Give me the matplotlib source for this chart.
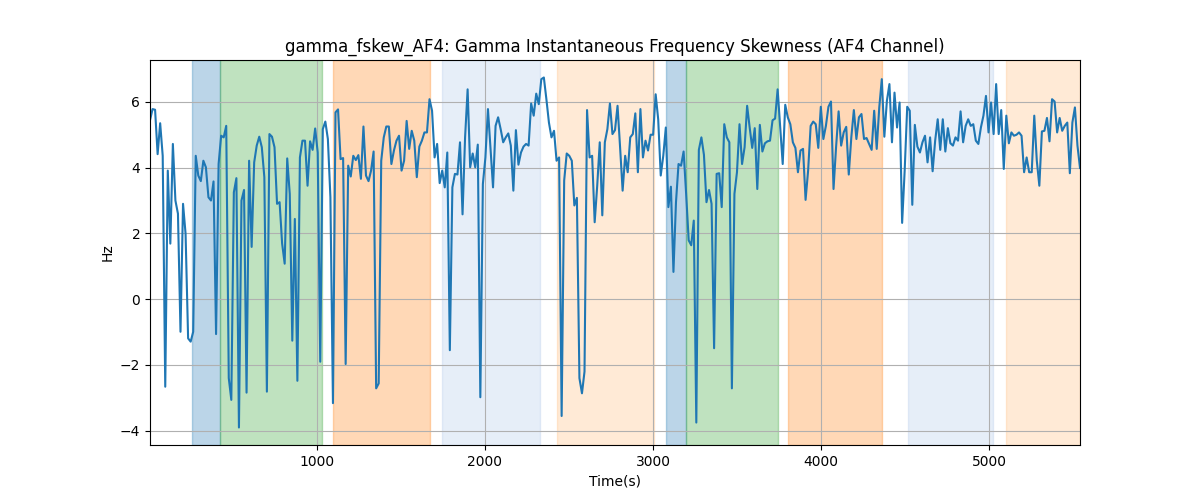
import numpy as np
import matplotlib
matplotlib.use("Agg")
import matplotlib.pyplot as plt

T_START = 6
T_END = 5542

# gamma frequency skewness
skew = [
    5.44, 5.78, 5.76, 4.41, 5.35, 4.36, -2.66, 3.91, 1.69, 4.72, 3.0, 2.6, -0.99, 2.9, 1.99, -1.19,
    -1.29, -0.99, 4.36, 3.76, 3.59, 4.21, 4.01, 3.1, 3.0, 3.58, -1.06, 4.11, 4.97, 4.92, 5.27, -2.4,
    -3.06, 3.25, 3.68, -3.9, 3.0, 3.32, -2.84, 4.21, 1.59, 4.16, 4.67, 4.94, 4.62, 3.71,
    -2.81, 5.02, 4.94, 4.62, 2.9, 2.95, 1.69, 1.08, 4.28, 3.2, -1.26, 2.44, -2.48, 4.31, 4.82, 4.82,
    3.45, 4.8, 4.54, 5.19, 4.46, -1.9, 5.17, 5.4, 4.87, 3.1, -3.16, 5.68, 5.77, 4.26, 4.29, -1.97,
    4.06, 3.73, 4.36, 4.23, 4.38, 3.66, 5.25, 3.76, 3.59, 3.91, 4.49, -2.71, -2.56,
    4.21, 4.92, 5.25, 5.25, 4.11, 4.52, 4.82, 4.97, 3.91, 4.21, 5.42, 4.57, 5.12, 4.82, 3.71, 4.64,
    4.82, 5.07, 5.07, 6.08, 5.73, 4.31, 4.72, 3.53, 3.91, 3.4, 4.46, -1.55, 3.4, 3.81, 3.79, 4.77,
    2.58, 4.92, 6.38, 4.01, 4.43, 4.01, 4.7, -2.98, 3.5, 4.31, 5.78, 4.6, 3.4, 5.27,
    5.53, 5.17, 4.77, 4.92, 5.04, 4.67, 3.3, 5.14, 4.09, 4.46, 4.64, 4.72, 4.67, 5.95, 5.58, 6.25,
    5.93, 6.69, 6.74, 6.08, 5.37, 4.92, 5.12, 4.21, 4.31, -3.55, 3.61, 4.43, 4.36, 4.21, 2.85, 3.08,
    -2.4, -2.86, -2.2, 5.75, 4.31, 4.36, 2.34, 3.45, 4.77, 2.55, 4.77, 5.17, 5.95, 5.02,
    5.14, 5.88, 4.62, 3.3, 4.36, 3.86, 4.92, 5.02, 5.65, 3.86, 5.78, 4.31, 4.82, 4.52, 5.0, 5.0,
    6.23, 5.47, 3.76, 4.36, 5.22, 2.8, 3.42, 0.83, 2.95, 4.11, 4.06, 4.49, 3.2, 1.79, 1.64, 2.39,
    -3.75, 4.54, 4.92, 4.39, 2.95, 3.32, 2.9, -1.49, 3.81, 3.83, 2.8, 5.32, 4.92, 4.77,
    -2.71, 3.2, 3.86, 5.32, 4.11, 4.62, 5.88, 5.22, 4.6, 5.2, 3.35, 5.3, 4.49, 4.74, 4.8, 4.82,
    5.44, 5.49, 6.38, 5.22, 4.11, 5.91, 5.53, 5.32, 4.77, 4.6, 3.86, 4.52, 4.57, 3.02, 3.91, 5.27,
    5.4, 5.32, 4.6, 5.85, 4.87, 5.27, 5.85, 6.01, 3.35, 4.62, 5.71, 4.67, 5.07, 5.24,
    3.79, 4.92, 5.75, 4.87, 5.53, 5.63, 4.87, 4.9, 4.72, 4.54, 5.73, 4.57, 5.83, 6.69, 4.94, 6.03,
    6.54, 4.77, 6.28, 5.22, 5.98, 2.32, 3.91, 5.85, 5.73, 2.87, 5.3, 4.64, 4.46, 4.77, 4.97, 4.16,
    4.92, 3.89, 4.82, 5.47, 4.54, 5.47, 4.49, 5.2, 4.74, 4.67, 4.92, 4.82, 5.71,
    4.77, 5.27, 5.47, 5.27, 5.32, 4.82, 4.72, 5.22, 5.58, 6.18, 5.07, 5.98, 5.02, 6.54, 5.02, 5.75,
    3.96, 5.58, 4.74, 5.07, 4.97, 5.0, 5.07, 4.97, 3.86, 4.31, 3.86, 3.86, 5.58, 4.21, 3.45, 5.1,
    5.12, 5.51, 4.8, 6.08, 6.01, 5.07, 5.51, 5.12, 5.27, 5.37, 3.83, 5.37, 5.83, 4.67, 3.99,
]

# shaded phases
phase_start = [256, 424, 1095, 1744, 2429, 3077, 3198, 3804, 4518, 5101]
phase_end = [424, 1028, 1673, 2327, 3004, 3198, 3744, 4361, 5022, 5542]
phase_kind = ["a", "b", "c", "d", "e", "a", "b", "c", "d", "e"]

kind_colors = {
    "a": "tab:blue",
    "b": "tab:green",
    "c": "tab:orange",
    "d": "#aec7e8",
    "e": "#ffbb78",
}

t = np.linspace(T_START, T_END, len(skew))

fig = plt.figure(figsize=(12, 5), dpi=100)
ax = fig.add_subplot(111)

for s, e, k in zip(phase_start, phase_end, phase_kind):
    ax.axvspan(s, e, color=kind_colors[k], alpha=0.3)

ax.plot(t, skew, color="tab:blue")
ax.set_xlim(t[0], t[-1])
ax.grid(True)
ax.set_title("gamma_fskew_AF4: Gamma Instantaneous Frequency Skewness (AF4 Channel)")
ax.set_xlabel("Time(s)")
ax.set_ylabel("Hz")

fig.savefig("out.png")
